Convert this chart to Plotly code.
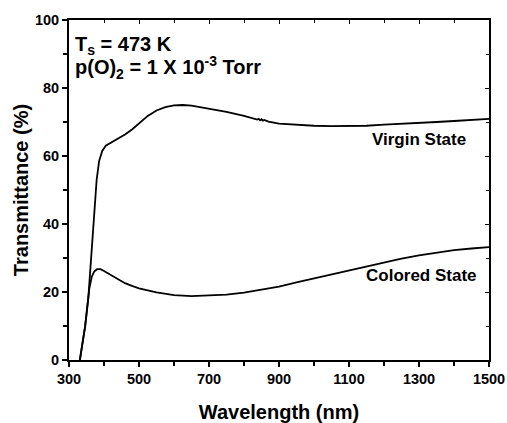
import plotly.graph_objects as go

wl_virgin = [331, 338, 346, 355, 365, 372, 379, 386, 395, 405, 430, 460, 480, 500, 525, 550, 575, 600, 625, 650,
             700, 750, 800, 830, 838, 842, 846, 850, 854, 858, 870, 900, 950, 1000, 1050, 1100, 1150, 1200,
             1250, 1300, 1350, 1400, 1450, 1500]
virgin = [0, 4, 9.8, 18, 33, 44, 53, 58.5, 61.5, 63, 64.5, 66.3, 67.8, 69.7, 71.8, 73.4, 74.4, 74.9, 75.0, 74.8,
          74.0, 73.0, 71.8, 71.0, 70.7, 70.9, 70.5, 70.8, 70.4, 70.6, 70.1, 69.5, 69.1, 68.9, 68.8, 68.8, 68.9, 69.2,
          69.4, 69.7, 70.0, 70.3, 70.6, 70.9]

wl_colored = [331, 338, 346, 352, 358, 365, 372, 380, 390, 400, 420, 440, 460, 480, 500, 550, 600, 650, 700, 750,
              800, 850, 900, 950, 1000, 1050, 1100, 1150, 1200, 1250, 1300, 1350, 1400, 1450, 1500]
colored = [0, 4, 9.8, 15.5, 21, 24.5, 26.0, 26.7, 26.7, 26.2, 25.0, 23.7, 22.6, 21.8, 21.1, 19.9, 19.1, 18.8, 18.9,
           19.2, 19.8, 20.6, 21.6, 22.8, 24.0, 25.2, 26.4, 27.6, 28.7, 29.8, 30.8, 31.6, 32.3, 32.8, 33.2]

x_ticks = [300, 500, 700, 900, 1100, 1300, 1500]
y_ticks = [0, 20, 40, 60, 80, 100]

FONT = "Liberation Sans, Arial, sans-serif"
line = dict(color="black", width=1.8)

fig = go.Figure()
fig.add_trace(go.Scatter(x=wl_virgin, y=virgin, mode="lines", line=line, showlegend=False))
fig.add_trace(go.Scatter(x=wl_colored, y=colored, mode="lines", line=line, showlegend=False))
# invisible trace to activate mirror axes
fig.add_trace(go.Scatter(x=[300], y=[0], xaxis="x2", yaxis="y2", mode="markers",
                         marker=dict(opacity=0), showlegend=False, hoverinfo="skip"))

tickfont = dict(family=FONT, size=14.5, color="black", weight="bold")
common = dict(showgrid=False, zeroline=False, showline=True, linecolor="black", linewidth=2,
              ticks="outside", ticklen=5, tickwidth=1.5, tickcolor="black")

fig.update_layout(
    width=507, height=423,
    margin=dict(l=69, r=18, t=20, b=63, autoexpand=False),
    paper_bgcolor="white", plot_bgcolor="white",
    font=dict(family=FONT, color="black"),
    xaxis=dict(range=[300, 1500], tickvals=x_ticks, ticktext=[str(v) for v in x_ticks],
               tickfont=tickfont, automargin=False,
               minor=dict(tickvals=[400, 600, 800, 1000, 1200, 1400], ticks="outside", ticklen=4,
                          tickwidth=1.5, tickcolor="black"),
               title=dict(text="Wavelength (nm)", font=dict(family=FONT, size=20, weight="bold"), standoff=20),
               **common),
    yaxis=dict(range=[0, 100], tickvals=y_ticks, tickfont=tickfont, automargin=False,
               minor=dict(tickvals=[10, 30, 50, 70, 90], ticks="outside", ticklen=4,
                          tickwidth=1.5, tickcolor="black"),
               title=dict(text="Transmittance (%)", font=dict(family=FONT, size=20, weight="bold"), standoff=1),
               **common),
    xaxis2=dict(range=[300, 1500], overlaying="x", side="top", anchor="y", showgrid=False, zeroline=False,
                showline=True, linecolor="black", linewidth=2, showticklabels=False,
                tickvals=x_ticks, ticks="inside", ticklen=4, tickwidth=1.2, tickcolor="black",
                minor=dict(tickvals=[400, 600, 800, 1000, 1200, 1400], ticks="inside", ticklen=3,
                           tickwidth=1.2, tickcolor="black")),
    yaxis2=dict(range=[0, 100], overlaying="y", side="right", anchor="x", showgrid=False, zeroline=False,
                showline=True, linecolor="black", linewidth=2, showticklabels=False,
                tickvals=y_ticks, ticks="inside", ticklen=4, tickwidth=1.2, tickcolor="black",
                minor=dict(tickvals=[10, 30, 50, 70, 90], ticks="inside", ticklen=3,
                           tickwidth=1.2, tickcolor="black")),
)

ann_font = dict(family=FONT, size=20, color="black", weight="bold")
fig.add_annotation(x=0.01, y=0.925, xref="paper", yref="paper", xanchor="left", yanchor="middle",
                   text="T<sub>s</sub> = 473 K", showarrow=False, font=ann_font)
fig.add_annotation(x=0.01, y=0.861, xref="paper", yref="paper", xanchor="left", yanchor="middle",
                   text="p(O)<sub>2</sub> = 1 X 10<sup>-3</sup> Torr", showarrow=False, font=ann_font)
lab_font = dict(family=FONT, size=17, color="black", weight="bold")
fig.add_annotation(x=1440, y=65.0, xref="x", yref="y", xanchor="right", yanchor="middle",
                   text="Virgin State", showarrow=False, font=lab_font)
fig.add_annotation(x=1471, y=25.0, xref="x", yref="y", xanchor="right", yanchor="middle",
                   text="Colored State", showarrow=False, font=lab_font)

fig.write_html("out.html", config={"displayModeBar": False},
               post_script="document.body.style.margin='0';document.body.style.overflow='hidden';")
